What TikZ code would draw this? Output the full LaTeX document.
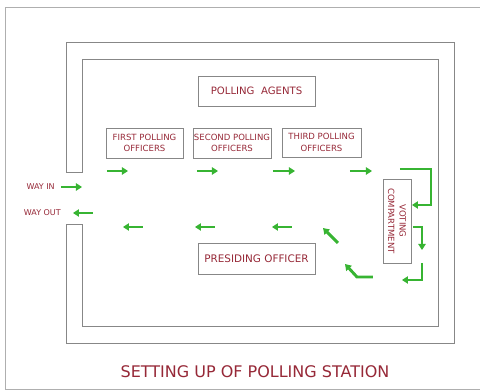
\documentclass[tikz,border=0pt]{standalone}
\usepackage{fontspec}
\setmainfont{DejaVu Sans}
\usetikzlibrary{arrows.meta}
\definecolor{wallgray}{RGB}{135,135,135}
\definecolor{framegray}{RGB}{175,175,175}
\definecolor{labelred}{RGB}{150,40,55}
\definecolor{flowgreen}{RGB}{55,180,50}
\tikzset{
  officebox/.style={draw=wallgray,line width=0.6pt,inner sep=0pt,align=center,text=labelred,font=\fontsize{6.4}{8.6}\selectfont},
  flow/.style={draw=flowgreen,line width=2.2pt,-{Triangle[length=4.5pt,width=5.5pt]}}
}
\begin{document}
\begin{tikzpicture}[x=0.75pt,y=0.75pt,yscale=-1,xscale=1]
\useasboundingbox (0,0) rectangle (480,392);
%Shape: Frame
\draw [color=framegray,line width=0.7pt] (480,7) -- (5,7) -- (5,389) -- (480,389) ;
%Shape: Walls with the door gap
\draw [color=wallgray,line width=0.6pt] (66,172) -- (66,42) -- (454,42) -- (454,343) -- (66,343) -- (66,224) -- (82,224) -- (82,326) -- (438,326) -- (438,59) -- (82,59) -- (82,172) -- cycle ;
% Text Node
\node [officebox,minimum width={117*0.75pt},minimum height={30*0.75pt},font=\fontsize{7.6}{9}\selectfont] (agents) at (256.5,91) {POLLING\ \ AGENTS};
% Text Node
\node [officebox,minimum width={77*0.75pt},minimum height={30*0.75pt}] (first) at (144.5,143) {FIRST POLLING\\OFFICERS};
% Text Node
\node [officebox,minimum width={78*0.75pt},minimum height={30*0.75pt}] (second) at (232,143) {SECOND POLLING\\OFFICERS};
% Text Node
\node [officebox,minimum width={79*0.75pt},minimum height={29*0.75pt}] (third) at (321.5,142.5) {THIRD POLLING\\OFFICERS};
% Text Node
\node [officebox,rotate=-90,minimum width={84*0.75pt},minimum height={28*0.75pt}] (voting) at (397,221) {VOTING\\COMPARTMENT};
% Text Node
\node [officebox,minimum width={117*0.75pt},minimum height={31*0.75pt},font=\fontsize{7.8}{9}\selectfont] (presiding) at (256.5,258.5) {PRESIDING OFFICER};
% Text Node
\node [anchor=east,inner sep=0pt,text=labelred,font=\fontsize{6}{7}\selectfont] (wayin) at (55,187) {WAY IN};
% Text Node
\node [anchor=east,inner sep=0pt,text=labelred,font=\fontsize{6}{7}\selectfont] (wayout) at (61,213) {WAY OUT};
% Text Node
\node [inner sep=0pt,text=labelred,font=\fontsize{12}{14}\selectfont] (title) at (255,372) {SETTING UP OF POLLING STATION};
%Straight Lines: way in and way out
\draw [flow] (61,187) -- (82,187) ;
\draw [flow] (93,213) -- (73,213) ;
%Straight Lines: towards the compartment
\draw [flow] (107,171) -- (128,171) ;
\draw [flow] (197,171) -- (218,171) ;
\draw [flow] (273,171) -- (295,171) ;
\draw [flow] (350,171) -- (372,171) ;
%Straight Lines: round the compartment
\draw [flow] (400,169) -- (431,169) -- (431,205) -- (412,205) ;
\draw [flow] (413,227) -- (422,227) -- (422,250) ;
\draw [flow] (422,263) -- (422,280) -- (402,280) ;
\draw [flow] (373,277) -- (357,277) -- (345,264) ;
\draw [flow] (338,243) -- (323,228) ;
%Straight Lines: back to the door
\draw [flow] (292,227) -- (272,227) ;
\draw [flow] (215,227) -- (195,227) ;
\draw [flow] (143,227) -- (123,227) ;
\end{tikzpicture}
\end{document}
